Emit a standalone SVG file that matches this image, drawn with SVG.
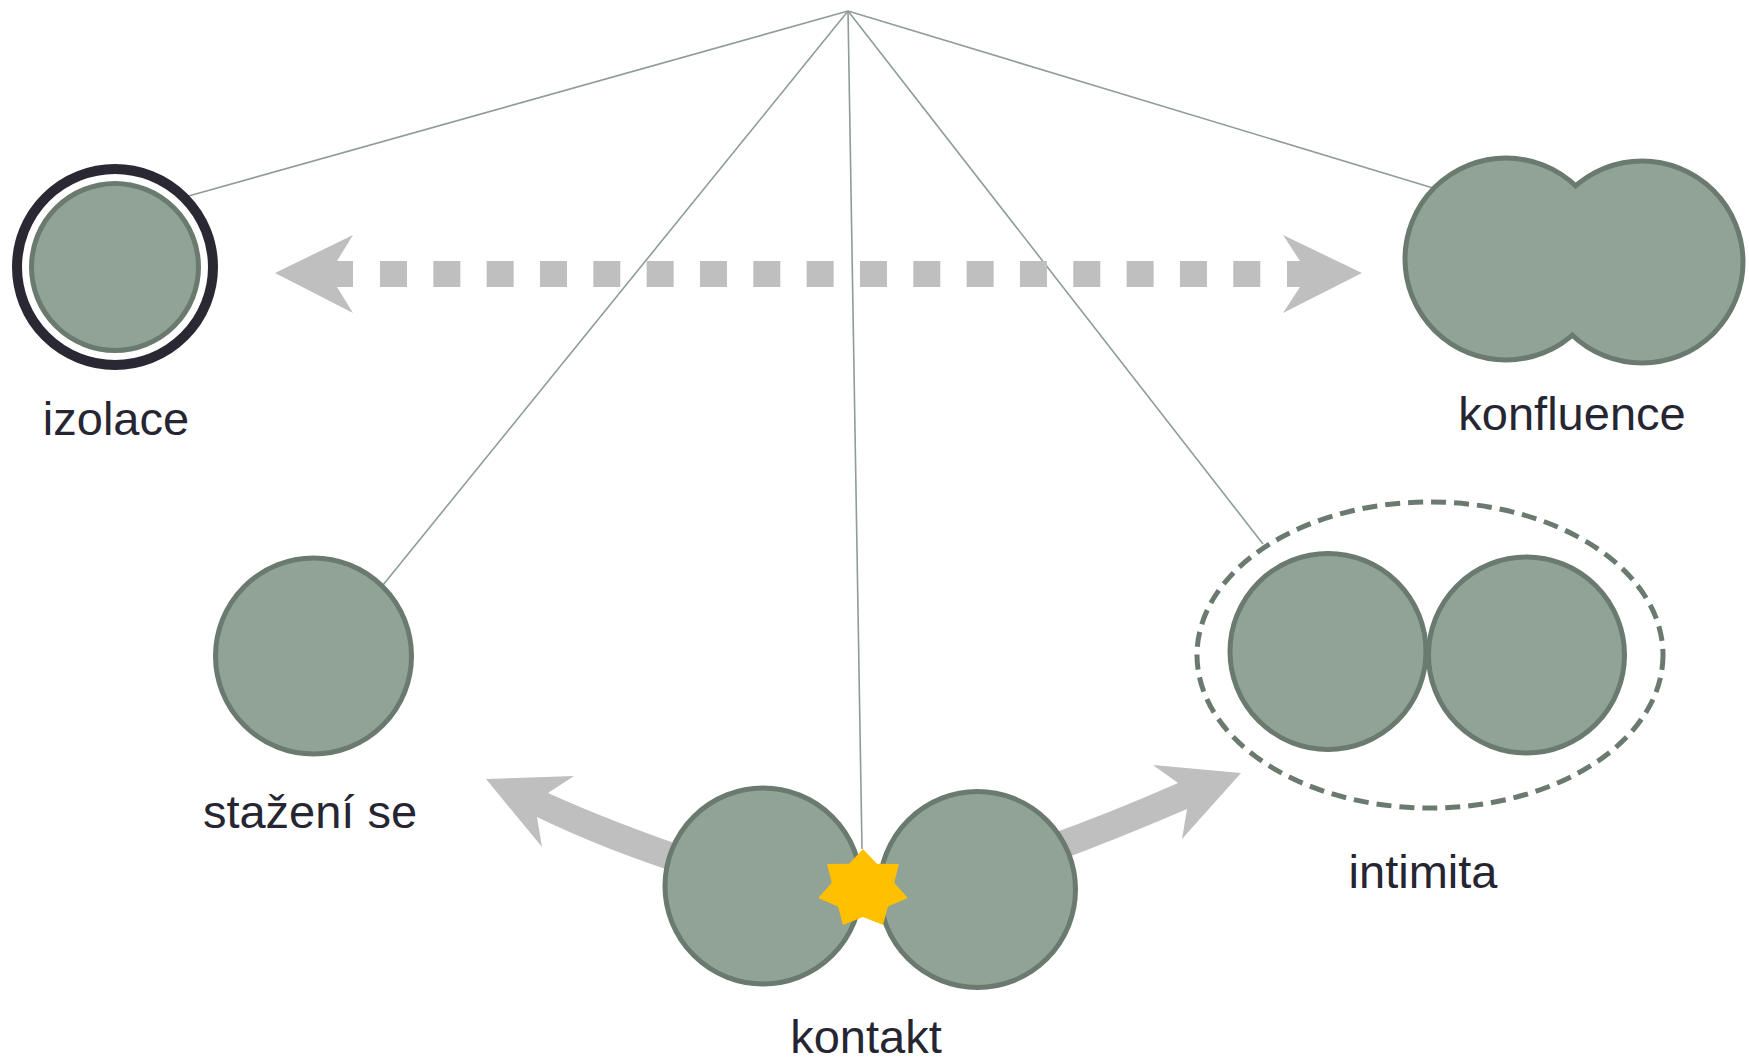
<svg xmlns="http://www.w3.org/2000/svg" width="1749" height="1060" viewBox="0 0 1749 1060">
<style>
.cell{fill:#91a397;stroke:#6b7a6f;stroke-width:5}
.fillonly{fill:#91a397;stroke:none}
.thick{fill:none;stroke:#6b7a6f;stroke-width:10}
.link{stroke:#8e9e94;stroke-width:1.6;fill:none}
.garrow{fill:#bfbfbf;stroke:none}
.lbl{font-family:"Liberation Sans",Arial,sans-serif;font-size:47px;fill:#262633;text-anchor:middle}
</style>
<rect width="1749" height="1060" fill="#ffffff"/>
<g id="connectors">
<line class="link" x1="848" y1="11" x2="185" y2="197"/>
<line class="link" x1="848" y1="11" x2="383" y2="585"/>
<line class="link" x1="848" y1="11" x2="862" y2="849"/>
<line class="link" x1="848" y1="11" x2="1263" y2="544"/>
<line class="link" x1="848" y1="11" x2="1433" y2="188"/>
<g id="dotted-arrow">
<line x1="380" y1="274" x2="1260.5" y2="274" stroke="#bfbfbf" stroke-width="26" stroke-dasharray="27 26.33"/>
<polygon class="garrow" points="275,273 353,235 337,261 353,261 353,287 337,287 353,313"/>
<polygon class="garrow" points="1362,273 1283,235 1300,261 1287,261 1287,287 1300,287 1283,313"/>
</g>
<path class="garrow" d="M486,779 L574,776 L548,793 Q612,822 700,852 L690,877 Q605,850 537,817 L542,847 Z"/>
<path class="garrow" d="M1241,773 L1153,765 L1178,783 Q1110,813 1040,838 L1050,864 Q1120,838 1187,809 L1182,839 Z"/>
</g>
<g id="izolace">
<circle cx="115" cy="267" r="98" fill="none" stroke="#292833" stroke-width="10"/>
<circle class="cell" cx="115" cy="267" r="83.5"/>
<text class="lbl" x="116" y="435">izolace</text>
</g>
<g id="konfluence">
<circle class="thick" cx="1506" cy="259" r="98.5"/>
<circle class="thick" cx="1642" cy="262" r="98.5"/>
<circle class="fillonly" cx="1506" cy="259" r="98.5"/>
<circle class="fillonly" cx="1642" cy="262" r="98.5"/>
<text class="lbl" x="1572" y="430">konfluence</text>
</g>
<g id="stazeni">
<circle class="cell" cx="313.5" cy="656" r="98"/>
<text class="lbl" x="310" y="828">stažení se</text>
</g>
<g id="intimita">
<ellipse cx="1430" cy="655" rx="233" ry="153" fill="none" stroke="#6b7a6f" stroke-width="5" stroke-dasharray="15 8"/>
<circle class="cell" cx="1328" cy="651.5" r="98"/>
<circle class="cell" cx="1526.5" cy="655" r="98"/>
<text class="lbl" x="1423" y="888">intimita</text>
</g>
<g id="kontakt">
<circle class="cell" cx="763" cy="886" r="98"/>
<circle class="cell" cx="977.5" cy="889.5" r="98"/>
<polygon fill="#ffc000" points="863,849 876.9,863.8 899,864.1 894.2,882.8 907.8,897.9 888,906.5 883,925 863,917 843,925 838,906.5 818.2,897.9 831.8,882.8 827,864.1 849.1,863.8"/>
<text class="lbl" x="866" y="1053">kontakt</text>
</g>
</svg>
